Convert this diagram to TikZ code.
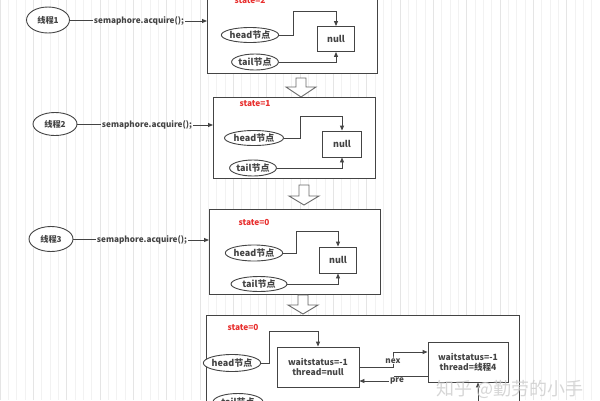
\documentclass[tikz,border=0pt]{standalone}
\usepackage{fontspec}
\setmainfont{Noto Sans CJK SC}
\usetikzlibrary{arrows.meta,shapes.geometric,calc}
\definecolor{ln}{HTML}{444444}
\definecolor{stred}{HTML}{E8302F}
\tikzset{
  ell/.style={draw=ln,line width=0.9pt,ellipse,inner sep=0pt,fill=white,font=\bfseries\fontsize{9}{10}\selectfont,text=ln},
  bigbox/.style={draw=ln,line width=0.9pt,fill=white,rectangle,inner sep=0pt},
  nullbox/.style={draw=ln,line width=0.9pt,fill=white,rectangle,inner sep=0pt,font=\bfseries\fontsize{9}{10}\selectfont,text=ln},
  wbox/.style={draw=ln,line width=0.9pt,fill=white,rectangle,inner sep=0pt,align=center,font=\bfseries\fontsize{8.6}{10}\selectfont,text=ln},
  thr/.style={ell,font=\bfseries\fontsize{8.2}{9}\selectfont},
  lab/.style={inner sep=1pt,font=\bfseries\fontsize{8.2}{9}\selectfont,text=ln},
  statelab/.style={inner sep=0pt,font=\bfseries\fontsize{8.3}{9}\selectfont,text=stred},
  conn/.style={draw=ln,line width=0.9pt,-{Triangle[length=5pt,width=4pt]}},
  plain/.style={draw=ln,line width=0.9pt},
  hollow/.style={draw=ln!80,line width=0.9pt,fill=white,line join=miter},
}
\newcommand{\harrow}[4]{%
  \draw[hollow] (#1-5,#2) -- (#1+5,#2) -- (#1+5,#3) -- (#1+15,#3) -- (#1,#4) -- (#1-15,#3) -- (#1-5,#3) -- cycle;}
\begin{document}
\begin{tikzpicture}[x=1pt,y=-1pt]
\useasboundingbox (0,0) rectangle (600,400);
\begin{scope}
\clip (0,0) rectangle (600,400);
\fill[white] (0,0) rectangle (600,400);
\draw[gray!10,line width=0.4pt,step=8.333] (0,0) grid (600,400);
\draw[gray!20,line width=0.5pt,step=33.333] (0,0) grid (600,400);

% ---------- stage 1
\node[bigbox,minimum width=170,minimum height=80,anchor=north west] (box1) at (207,-7) {};
\node[statelab] (s1) at (250,0) {state=2};
\node[ell,minimum width=54,minimum height=15] (h1) at (250,35) {head节点};
\node[ell,minimum width=46,minimum height=16] (t1) at (255,62) {tail节点};
\node[nullbox,minimum width=37,minimum height=25] (n1) at (336,39) {null};
\draw[conn] (h1.east) -| (293,11) -| (n1.north);
\draw[conn] (t1.east) -| (n1.south);
\node[thr,minimum width=43,minimum height=26] (th1) at (48,20) {线程1};
\node[lab] (l1) at (139,21) {semaphore.acquire();};
\draw[plain] (th1.east) -- (th1.east -| l1.west);
\draw[conn] (l1.east) -- (l1.east -| box1.west);
\harrow{301}{78}{87}{97}

% ---------- stage 2
\node[bigbox,minimum width=162,minimum height=81,anchor=north west] (box2) at (213,97) {};
\node[statelab] (s2) at (255,104) {state=1};
\node[ell,minimum width=59,minimum height=15] (h2) at (254,138) {head节点};
\node[ell,minimum width=45,minimum height=16] (t2) at (253,168) {tail节点};
\node[nullbox,minimum width=39,minimum height=26] (n2) at (342,144) {null};
\draw[conn] (h2.east) -| (300,116) -| (n2.north);
\draw[conn] (t2.east) -| (n2.south);
\node[thr,minimum width=44,minimum height=23] (th2) at (55,124) {线程2};
\node[lab] (l2) at (147,125) {semaphore.acquire();};
\draw[plain] (th2.east) -- (th2.east -| l2.west);
\draw[conn] (l2.east) -- (l2.east -| box2.west);
\harrow{304}{185}{196}{205}

% ---------- stage 3
\node[bigbox,minimum width=171,minimum height=85,anchor=north west] (box3) at (209,209) {};
\node[statelab] (s3) at (254,222) {state=0};
\node[ell,minimum width=53,minimum height=16] (h3) at (254,253) {head节点};
\node[ell,minimum width=56,minimum height=15] (t3) at (259,284) {tail节点};
\node[nullbox,minimum width=37,minimum height=26] (n3) at (338,260) {null};
\draw[conn] (h3.east) -| (296,231) -| (n3.north);
\draw[conn] (t3.east) -| (n3.south);
\node[thr,minimum width=44,minimum height=25] (th3) at (51,239) {线程3};
\node[lab] (l3) at (142,240) {semaphore.acquire();};
\draw[plain] (th3.east) -- (th3.east -| l3.west);
\draw[conn] (l3.east) -- (l3.east -| box3.west);
\harrow{303}{295}{305}{314}

% ---------- stage 4
\node[bigbox,minimum width=313,minimum height=110,anchor=north west] (box4) at (206,315) {};
\node[statelab] (s4) at (243,327) {state=0};
\node[wbox,minimum width=82,minimum height=40] (w1) at (318,367) {waitstatus=-1\\thread=null};
\node[wbox,minimum width=80,minimum height=40] (w2) at (468,362) {waitstatus=-1\\thread=线程4};
\node[ell,minimum width=55,minimum height=17] (h4) at (232,363) {head节点};
\node[ell,minimum width=50,minimum height=17] (t4) at (238,402) {tail节点};
\draw[conn] (h4.east) -| (269,331) -| (w1.north);
\coordinate (nexin) at ($(w2.west)+(0,-10)$);
\draw[conn] (w1.east) -| (393,360) |- (nexin);
\node[lab,fill=white] (nex) at (393,361) {nex};
\coordinate (preout) at ($(w2.west)+(0,14)$);
\coordinate (prein) at ($(w1.east)+(0,14)$);
\draw[conn] (preout) -| (394,379) |- (prein);
\node[lab,fill=white] (pre) at (397,381) {pre};
\coordinate (tailin) at ($(w2.south)+(10,0)$);
\draw[conn] (t4.east) -| (tailin);

\node[text=gray!40,font=\fontsize{18}{19}\selectfont,opacity=0.8] (wm) at (510,389) {知乎 @勤劳的小手};
\end{scope}
\end{tikzpicture}
\end{document}
